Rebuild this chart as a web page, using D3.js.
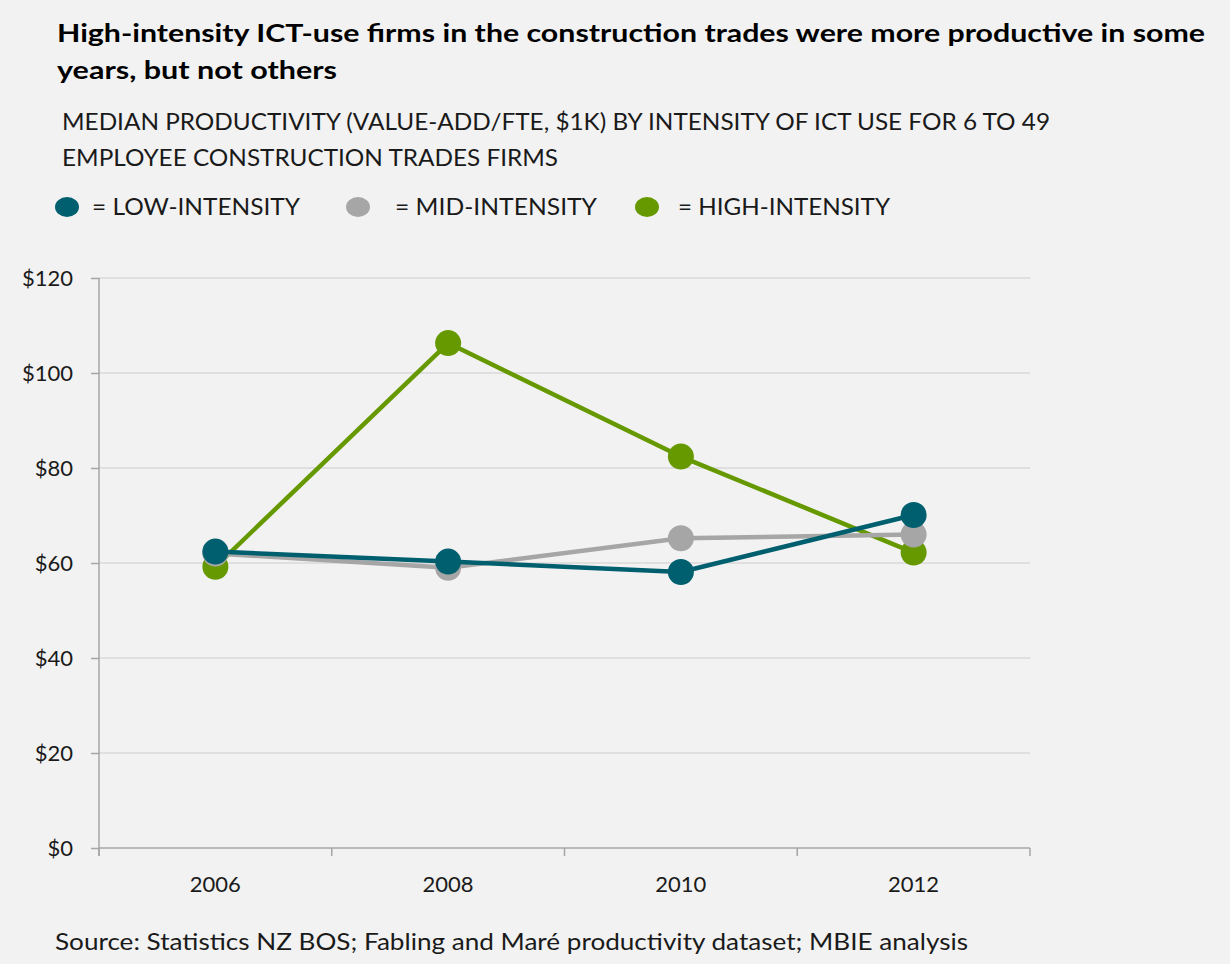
<!DOCTYPE html>
<html>
<head>
<meta charset="utf-8">
<script src="https://cdn.jsdelivr.net/npm/d3@7"></script>
<style>
  html, body { margin: 0; padding: 0; background: #f2f2f2; }
  svg { display: block; }
  text { font-family: Lato, "Open Sans", sans-serif; }
</style>
</head>
<body>
<svg id="chart" width="1230" height="964"></svg>
<script>
// Years on the category axis
const years = ["2006", "2008", "2010", "2012"];
// Median productivity ($1K value-add per FTE) by ICT-use intensity
const lowIntensity  = [62.4, 60.3, 58.1, 70.1];
const midIntensity  = [62.0, 59.0, 65.2, 66.0];
const highIntensity = [59.2, 106.3, 82.4, 62.2];
// Y axis ticks
const yTicks = [0, 20, 40, 60, 80, 100, 120];

const titleLines = [
  "High-intensity  ICT-use firms in the construction  trades were more productive in some",
  "years, but not others"
];
const subtitleLines = [
  "MEDIAN PRODUCTIVITY (VALUE-ADD/FTE, $1K) BY INTENSITY OF ICT USE FOR 6 TO 49",
  "EMPLOYEE CONSTRUCTION TRADES FIRMS"
];
const sourceText = "Source: Statistics NZ BOS; Fabling and Maré productivity dataset; MBIE analysis";

const series = [
  { name: "= HIGH-INTENSITY", values: highIntensity, color: "#669900" },
  { name: "= MID-INTENSITY",  values: midIntensity,  color: "#a6a6a6" },
  { name: "= LOW-INTENSITY",  values: lowIntensity,  color: "#005f6f" }
];

(function draw() {
  const svg = d3.select("#chart");
  svg.append("rect").attr("width", 1230).attr("height", 964).attr("fill", "#f2f2f2");

  // Title (two lines, fitted to the header width)
  const titleWidths = [1148, 280];
  svg.append("g").selectAll("text").data(titleLines).join("text")
    .attr("x", 57).attr("y", (d, i) => 42 + i * 37)
    .attr("font-size", 24).attr("font-weight", "bold").attr("fill", "#000")
    .attr("textLength", (d, i) => titleWidths[i]).attr("lengthAdjust", "spacingAndGlyphs")
    .text(d => d);

  // Subtitle
  const subWidths = [988, 496];
  svg.append("g").selectAll("text").data(subtitleLines).join("text")
    .attr("x", 62).attr("y", (d, i) => 130 + i * 36)
    .attr("font-size", 24).attr("fill", "#1a1a1a")
    .attr("textLength", (d, i) => subWidths[i]).attr("lengthAdjust", "spacingAndGlyphs")
    .text(d => d);

  // Legend
  const legendItems = [
    { s: series[2], cx: 67, tx: 92, w: 208 },
    { s: series[1], cx: 358, tx: 395, w: 202 },
    { s: series[0], cx: 647, tx: 678, w: 212 }
  ];
  const lg = svg.append("g");
  legendItems.forEach(it => {
    lg.append("ellipse").attr("cx", it.cx).attr("cy", 207).attr("rx", 12).attr("ry", 10)
      .attr("fill", it.s.color);
    lg.append("text").attr("x", it.tx).attr("y", 215)
      .attr("font-size", 24).attr("fill", "#1a1a1a")
      .attr("textLength", it.w).attr("lengthAdjust", "spacingAndGlyphs")
      .text(it.s.name);
  });

  // Plot area
  const pl = 99, pr = 1030, pt = 278, pb = 848;
  const x = d3.scaleBand().domain(years).range([pl, pr]).padding(0);
  const y = d3.scaleLinear().domain([0, 120]).range([pb, pt]);

  // Horizontal gridlines
  svg.append("g").selectAll("line").data(yTicks.filter(t => t > 0)).join("line")
    .attr("x1", pl).attr("x2", pr)
    .attr("y1", d => y(d)).attr("y2", d => y(d))
    .attr("stroke", "#d9d9d9").attr("stroke-width", 1.5);

  // Y axis
  const yAxis = svg.append("g").attr("transform", `translate(${pl},0)`)
    .call(d3.axisLeft(y).tickValues(yTicks).tickSize(8).tickPadding(18).tickFormat(d => "$" + d));
  yAxis.select(".domain").attr("stroke", "#a6a6a6").attr("stroke-width", 1.5)
    .attr("d", `M0,${pt}V${pb + 8}`);
  yAxis.selectAll(".tick line").attr("stroke", "#a6a6a6").attr("stroke-width", 1.5);
  yAxis.selectAll(".tick text").attr("font-size", 22).attr("fill", "#1a1a1a")
    .attr("font-family", "Lato, 'Open Sans', sans-serif");

  // X axis with tick marks between categories
  const xg = svg.append("g");
  xg.append("line").attr("x1", pl).attr("x2", pr).attr("y1", pb).attr("y2", pb)
    .attr("stroke", "#a6a6a6").attr("stroke-width", 1.5);
  const boundaries = years.map(d => x(d)).concat([pr]);
  xg.selectAll("line.tk").data(boundaries).join("line").attr("class", "tk")
    .attr("x1", d => d).attr("x2", d => d).attr("y1", pb).attr("y2", pb + 8)
    .attr("stroke", "#a6a6a6").attr("stroke-width", 1.5);
  xg.selectAll("text").data(years).join("text")
    .attr("x", d => x(d) + x.bandwidth() / 2).attr("y", 892)
    .attr("text-anchor", "middle").attr("font-size", 22).attr("fill", "#1a1a1a")
    .text(d => d);

  // Lines and markers
  const line = d3.line()
    .x((d, i) => x(years[i]) + x.bandwidth() / 2)
    .y(d => y(d));

  const sg = svg.append("g").selectAll("g").data(series).join("g");
  sg.append("path")
    .attr("d", d => line(d.values))
    .attr("fill", "none").attr("stroke", d => d.color).attr("stroke-width", 4.5)
    .attr("stroke-linejoin", "round");
  sg.selectAll("circle").data(d => d.values.map((v, i) => ({ v, i, color: d.color }))).join("circle")
    .attr("cx", d => x(years[d.i]) + x.bandwidth() / 2)
    .attr("cy", d => y(d.v))
    .attr("r", 13)
    .attr("fill", d => d.color);

  // Source note
  svg.append("text").attr("x", 55).attr("y", 950)
    .attr("font-size", 24).attr("fill", "#1a1a1a")
    .attr("textLength", 913).attr("lengthAdjust", "spacingAndGlyphs")
    .text(sourceText);
})();
</script>
</body>
</html>
